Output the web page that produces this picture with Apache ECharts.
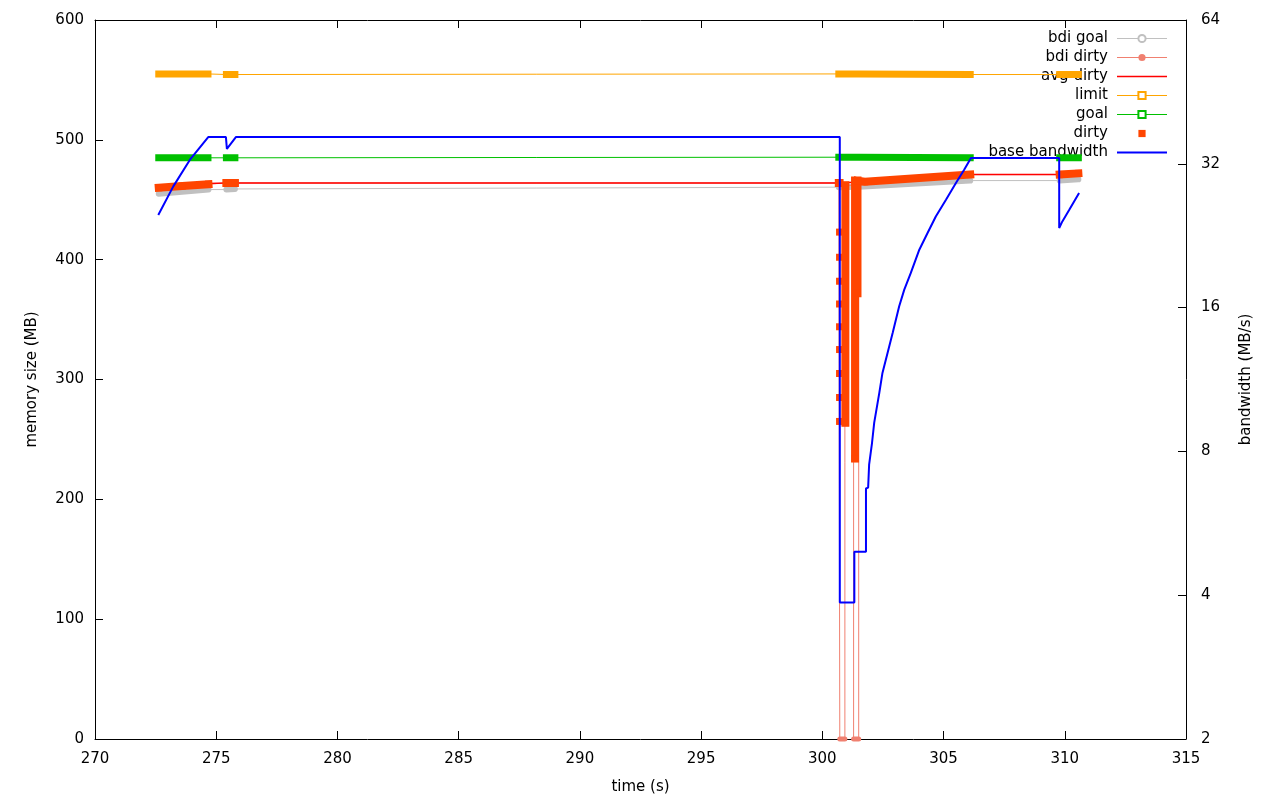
<!DOCTYPE html>
<html>
<head>
<meta charset="utf-8">
<script src="https://cdn.jsdelivr.net/npm/echarts@6/dist/echarts.min.js"></script>
<style>
html,body{margin:0;padding:0;background:#fff;}
#chart{width:1280px;height:800px;}
</style>
</head>
<body>
<div id="chart"></div>
<script>
// ---- axis ranges / ticks ----
const xTickMin = 270, xTickMax = 315, xTickStep = 5;
const memTickMin = 0, memTickMax = 600, memTickStep = 100;
const bwTicks = [2, 4, 8, 16, 32, 64];

// ---- series values: [time (s), value]; null = gap between point clusters ----
const bdiGoalPts = [
  [272.63, 455], [274.68, 458.5], null,
  [275.42, 458.5], [275.77, 459], null,
  [300.68, 460.5], [301.70, 461], [306.10, 466], null,
  [309.79, 466], [310.56, 467]
];

const bdiDirtyPts = [
  [272.63, 460], [273.6, 461.5], [274.68, 463], null,
  [275.42, 464], [275.77, 464], null,
  [300.68, 464], [300.72, 464], null,
  [300.72, 0], [300.93, 0], null,
  [300.93, 462], null,
  [301.29, 462], null,
  [301.29, 0], [301.50, 0], null,
  [301.50, 466], [301.75, 465], [306.10, 471], null,
  [309.79, 471], [310.56, 472]
];

const avgDirtyPts = [
  [272.63, 460], [274.68, 463.5], [275.42, 464], [275.77, 464],
  [300.68, 464], [301.75, 465], [306.10, 471], [309.79, 471], [310.56, 472]
];

const limitPts = [
  [272.63, 555], [274.66, 555], null,
  [275.42, 554.5], [275.77, 554.5], null,
  [300.68, 555], [301.50, 555], [306.10, 554.5], null,
  [309.79, 554.5], [310.56, 554.5]
];

const goalPts = [
  [272.63, 485], [274.66, 485], null,
  [275.42, 485], [275.77, 485], null,
  [300.68, 485.5], [301.50, 485.5], [306.10, 485], null,
  [309.79, 485], [310.56, 485]
];

const dirtyPts = [
  [272.63, 460], [273.6, 461.5], [274.68, 463], null,
  [275.42, 464], [275.77, 464], null,
  [300.68, 464], [300.71, 464], null,
  [300.71, 423], null, [300.71, 402], null, [300.71, 382], null,
  [300.71, 363], null, [300.71, 344], null, [300.71, 325], null,
  [300.71, 305], null, [300.71, 285], null, [300.71, 265], null,
  [300.95, 462], [300.95, 264], null,
  [301.35, 466], [301.35, 234], null,
  [301.45, 466], [301.45, 372], null,
  [301.45, 466], [301.75, 465], [306.10, 471], null,
  [309.79, 471], [310.56, 472]
];

const baseBwPts = [
  [272.61, 25.0], [273.23, 28.7], [273.91, 32.6], [274.67, 36.4],
  [275.40, 36.4], [275.44, 34.4], [275.81, 36.4],
  [300.72, 36.4], [300.72, 3.86], [301.32, 3.86], [301.32, 4.93],
  [301.80, 4.93], [301.80, 6.69], [301.89, 6.72], [301.93, 7.51],
  [302.05, 8.34], [302.14, 9.19], [302.35, 10.61], [302.48, 11.68],
  [302.69, 12.86], [302.90, 14.16], [303.17, 16.10], [303.38, 17.45],
  [303.65, 18.91], [304.00, 21.15], [304.34, 22.93], [304.68, 24.83],
  [305.10, 26.91], [305.51, 29.16], [305.85, 31.09], [306.13, 32.89],
  [309.77, 32.89], [309.77, 23.48], [309.90, 24.24], [310.18, 25.6], [310.59, 27.8]
];

// ---- helpers ----
const clusters = pts => pts.map(p => p === null ? ['-', '-'] : p);
const joined = pts => pts.filter(p => p !== null);

const FONT = 'DejaVu Sans';
const C = {
  bdiGoal: '#c0c0c0', bdiDirty: '#f08070', avgDirty: '#ff0000',
  limit: '#ffa500', goal: '#00c000', dirty: '#ff4500', bw: '#0000ff'
};

function thin(name, pts, color, symbol, z) {
  return {
    name, type: 'line', data: joined(pts), xAxisIndex: 0, yAxisIndex: 0,
    symbol, showSymbol: false, z,
    lineStyle: { color, width: 1 }, itemStyle: { color },
    emphasis: { disabled: true }, animation: false
  };
}
function band(name, pts, color, width, cap, z, extra) {
  return Object.assign({
    name, type: 'line', data: clusters(pts), xAxisIndex: 0, yAxisIndex: 0,
    symbol: 'none', showSymbol: false, connectNulls: false, z,
    lineStyle: { color, width, cap, join: 'miter' }, itemStyle: { color },
    emphasis: { disabled: true }, animation: false
  }, extra || {});
}

const chart = echarts.init(document.getElementById('chart'), null, { renderer: 'canvas' });

const axisText = { fontFamily: FONT, fontSize: 15, color: '#000' };

chart.setOption({
  backgroundColor: '#fff',
  animation: false,
  textStyle: { fontFamily: FONT },
  grid: { left: 95, right: 94, top: 20, bottom: 60, containLabel: false },
  legend: {
    orient: 'vertical', right: 107, top: 26, align: 'right',
    itemWidth: 50, itemHeight: 9, itemGap: 4, z: 1,
    selectedMode: false,
    textStyle: { fontFamily: FONT, fontSize: 15, color: '#000', lineHeight: 15, padding: [0, 4, 0, 0] },
    data: [
      { name: 'bdi goal', lineStyle: { width: 1 } },
      { name: 'bdi dirty', lineStyle: { width: 1 } },
      { name: 'avg dirty', lineStyle: { width: 1.5 }, itemStyle: { opacity: 0 } },
      { name: 'limit', lineStyle: { width: 1 } },
      { name: 'goal', lineStyle: { width: 1 } },
      { name: 'dirty', lineStyle: { opacity: 0 } },
      { name: 'base bandwidth', lineStyle: { width: 2 }, itemStyle: { opacity: 0 } }
    ]
  },
  xAxis: [
    {
      type: 'value', position: 'bottom', min: xTickMin, max: xTickMax, interval: xTickStep,
      name: 'time (s)', nameLocation: 'middle', nameGap: 41,
      nameTextStyle: axisText,
      axisLine: { show: true, onZero: false, lineStyle: { color: '#000', width: 1 } },
      axisTick: { show: true, inside: true, length: 8, lineStyle: { color: '#000' } },
      axisLabel: Object.assign({ margin: 13 }, axisText),
      splitLine: { show: false }
    },
    {
      type: 'value', position: 'top', min: xTickMin, max: xTickMax, interval: xTickStep,
      axisLine: { show: true, onZero: false, lineStyle: { color: '#000', width: 1 } },
      axisTick: { show: true, inside: true, length: 8, lineStyle: { color: '#000' } },
      axisLabel: { show: false },
      splitLine: { show: false }
    }
  ],
  yAxis: [
    {
      type: 'value', position: 'left', min: memTickMin, max: memTickMax, interval: memTickStep,
      name: 'memory size (MB)', nameLocation: 'middle', nameGap: 55, nameRotate: 90,
      nameTextStyle: axisText,
      axisLine: { show: true, onZero: false, lineStyle: { color: '#000', width: 1 } },
      axisTick: { show: true, inside: true, length: 8, lineStyle: { color: '#000' } },
      axisLabel: Object.assign({ margin: 11 }, axisText),
      splitLine: { show: false }
    },
    {
      type: 'log', logBase: 2, position: 'right',
      min: bwTicks[0], max: bwTicks[bwTicks.length - 1],
      name: 'bandwidth (MB/s)', nameLocation: 'middle', nameGap: 53, nameRotate: 90,
      nameTextStyle: axisText,
      axisLine: { show: true, onZero: false, lineStyle: { color: '#000', width: 1 } },
      axisTick: { show: true, inside: true, length: 8, lineStyle: { color: '#000' } },
      axisLabel: Object.assign({ margin: 15 }, axisText),
      minorTick: { show: false },
      splitLine: { show: false }
    }
  ],
  series: [
    band('bdi goal pts', bdiGoalPts, C.bdiGoal, 6, 'round', 2),
    thin('bdi goal', bdiGoalPts, C.bdiGoal, 'emptyCircle', 3),
    band('bdi dirty pts', bdiDirtyPts, C.bdiDirty, 5, 'round', 4, { clip: false }),
    thin('bdi dirty', bdiDirtyPts, C.bdiDirty, 'circle', 5),
    Object.assign(thin('avg dirty', avgDirtyPts, C.avgDirty, 'circle', 6), { lineStyle: { color: C.avgDirty, width: 1.5 } }),
    band('limit pts', limitPts, C.limit, 7, 'square', 7),
    thin('limit', limitPts, C.limit, 'emptyRect', 8),
    band('goal pts', goalPts, C.goal, 7, 'square', 9),
    thin('goal', goalPts, C.goal, 'emptyRect', 10),
    {
      name: 'dirty', type: 'line', data: clusters(dirtyPts), xAxisIndex: 0, yAxisIndex: 0,
      symbol: 'rect', symbolSize: 7, showSymbol: true, showAllSymbol: true, connectNulls: false, z: 11,
      lineStyle: { color: C.dirty, width: 8, cap: 'square' }, itemStyle: { color: C.dirty },
      emphasis: { disabled: true }, animation: false
    },
    {
      name: 'base bandwidth', type: 'line', data: baseBwPts, xAxisIndex: 0, yAxisIndex: 1,
      symbol: 'none', showSymbol: false, z: 12,
      lineStyle: { color: C.bw, width: 2 }, itemStyle: { color: C.bw },
      emphasis: { disabled: true }, animation: false
    }
  ]
});
</script>
</body>
</html>
